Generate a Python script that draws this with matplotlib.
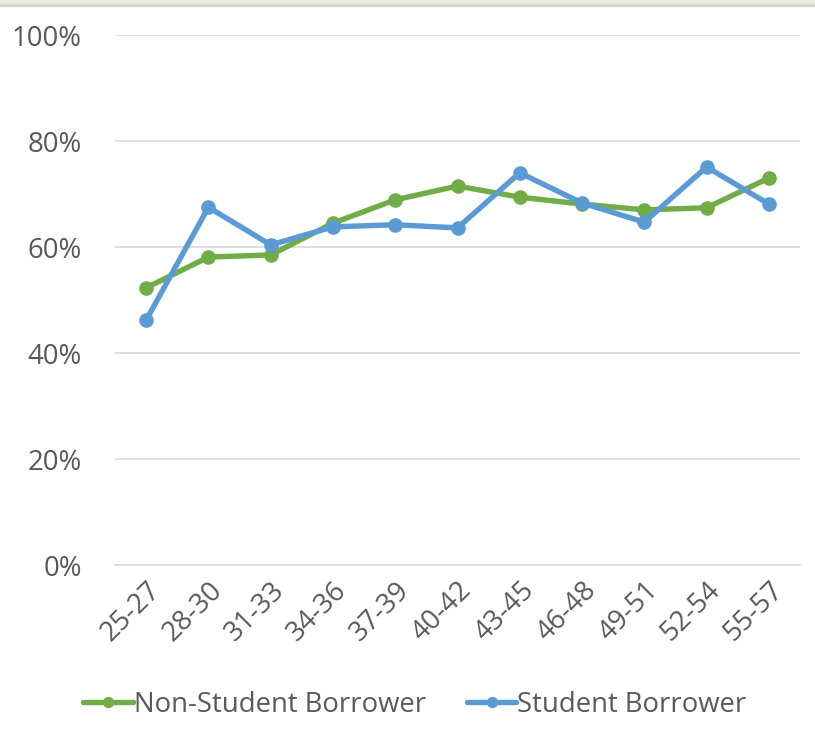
import matplotlib.pyplot as plt
from matplotlib.patches import Rectangle
from matplotlib.ticker import PercentFormatter

plt.rcParams['font.family'] = ['Open Sans', 'DejaVu Sans']

# age bands and share values
ages = ['25-27', '28-30', '31-33', '34-36', '37-39', '40-42',
        '43-45', '46-48', '49-51', '52-54', '55-57']
non_student = [0.523, 0.581, 0.585, 0.645, 0.689, 0.715,
               0.694, 0.681, 0.670, 0.674, 0.730]
student = [0.462, 0.675, 0.604, 0.638, 0.642, 0.636,
           0.740, 0.683, 0.647, 0.751, 0.681]

green = '#70AD47'
blue = '#5B9BD5'
txt = '#595959'
fs = 19.8

fig = plt.figure(figsize=(8.15, 7.39), dpi=100)

# window strip along the top edge
fig.patches.append(Rectangle((0, 1 - 4/739), 1, 4/739, transform=fig.transFigure,
                             color='#EBEBE0', zorder=0))
fig.patches.append(Rectangle((0, 1 - 6/739), 1, 2/739, transform=fig.transFigure,
                             color='#D4D4D4', zorder=0))

ax = fig.add_axes([115/815, 1 - 565/739, 685/815, 530/739])

x = range(len(ages))
ax.plot(x, non_student, color=green, lw=3.9, marker='o', ms=9.5,
        label='Non-Student Borrower', solid_capstyle='round', zorder=3)
ax.plot(x, student, color=blue, lw=3.9, marker='o', ms=9.5,
        label='Student Borrower', solid_capstyle='round', zorder=4)

ax.set_ylim(0, 1)
ax.set_xlim(-0.5, len(ages) - 0.5)
ax.set_yticks([0, 0.2, 0.4, 0.6, 0.8, 1.0])
ax.yaxis.set_major_formatter(PercentFormatter(1.0, decimals=0))
ax.grid(axis='y', color='#D9D9D9', lw=1.2)
ax.set_axisbelow(True)
for s in ax.spines.values():
    s.set_visible(False)
ax.spines['bottom'].set_visible(True)
ax.spines['bottom'].set_color('#D9D9D9')
ax.spines['bottom'].set_linewidth(1.2)

ax.set_xticks(list(x))
ax.set_xticklabels(ages, rotation=45, ha='right', rotation_mode='anchor')
ax.tick_params(axis='both', length=0, labelsize=fs, labelcolor=txt)
ax.tick_params(axis='y', pad=24)
ax.tick_params(axis='x', pad=8)

fig.legend(loc='center', bbox_to_anchor=(0.509, 1 - 705/739), ncol=2,
           frameon=False, fontsize=fs, labelcolor=txt, handlelength=1.8,
           handletextpad=0.02, columnspacing=1.5, markerscale=0.75)

fig.savefig('out.png', dpi=100)
